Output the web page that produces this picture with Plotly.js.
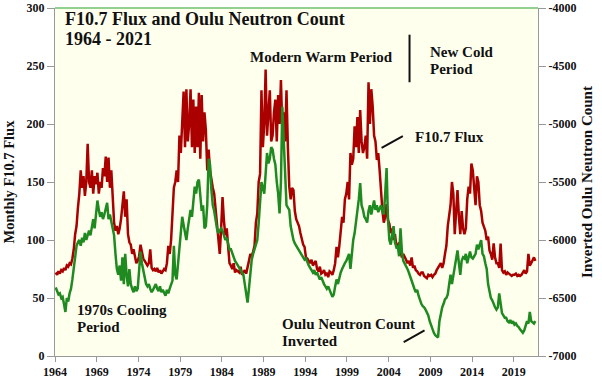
<!DOCTYPE html>
<html>
<head>
<meta charset="utf-8">
<script src="https://cdn.plot.ly/plotly-3.0.1.min.js"></script>
<style>html,body{margin:0;padding:0;background:#fff;}#chart{width:602px;height:379px;}</style>
</head>
<body>
<div id="chart"></div>
<script>
// Sampling: 6 values per year (bi-monthly), starting 1964
const startYear = 1964;
const perYear = 6;

// Monthly F10.7 Flux (left axis), bi-monthly samples
const f107 = [
  72, 70, 73, 71, 74, 73,        // 1964
  76, 74, 78, 77, 80, 79,        // 1965
  84, 92, 105, 112, 128, 140,    // 1966
  160, 145, 155, 138, 150, 183,  // 1967
  150, 145, 160, 140, 155, 148,  // 1968
  158, 140, 150, 145, 162, 155,  // 1969
  172, 150, 171, 145, 160, 140,  // 1970
  115, 108, 112, 105, 110, 118,  // 1971
  128, 142, 120, 135, 105, 98,   // 1972
  96, 88, 92, 84, 80, 82,        // 1973
  86, 96, 90, 84, 82, 80,        // 1974
  78, 80, 92, 76, 74, 75,        // 1975
  73, 76, 72, 74, 71, 73,        // 1976
  75, 74, 80, 95, 88, 100,       // 1977
  120, 145, 150, 160, 150, 190,  // 1978
  175, 200, 228, 180, 230, 185,  // 1979
  200, 230, 180, 221, 175, 215,  // 1980
  180, 227, 170, 225, 185, 210,  // 1981
  195, 160, 178, 160, 150, 145,  // 1982
  140, 125, 113, 100, 88, 110,   // 1983
  137, 117, 104, 110, 90, 80,    // 1984
  78, 75, 80, 72, 74, 73,        // 1985
  72, 77, 70, 72, 74, 71,        // 1986
  78, 82, 88, 86, 90, 95,        // 1987
  115, 123, 150, 157, 229, 180,  // 1988
  200, 247, 190, 215, 229, 185,  // 1989
  190, 210, 221, 185, 225, 200,  // 1990
  238, 195, 210, 185, 229, 180,  // 1991
  146, 135, 145, 143, 125, 118,  // 1992
  115, 112, 106, 100, 96, 94,    // 1993
  85, 84, 82, 80, 83, 78,        // 1994
  80, 82, 75, 73, 77, 71,        // 1995
  72, 74, 70, 71, 68, 73,        // 1996
  72, 70, 74, 80, 94, 85,        // 1997
  95, 108, 120, 115, 135, 140,   // 1998
  150, 135, 175, 165, 170, 198,  // 1999
  180, 206, 175, 212, 185, 175,  // 2000
  180, 190, 170, 236, 200, 230,  // 2001
  215, 190, 185, 169, 175, 160,  // 2002
  140, 125, 115, 120, 131, 117,  // 2003
  114, 106, 110, 100, 105, 95,   // 2004
  94, 98, 90, 85, 88, 86,        // 2005
  83, 80, 82, 78, 85, 76,        // 2006
  78, 74, 73, 71, 70, 72,        // 2007
  72, 69, 68, 67, 70, 69,        // 2008
  70, 68, 70, 71, 74, 76,        // 2009
  78, 80, 76, 80, 88, 95,        // 2010
  112, 120, 130, 150, 140, 105,  // 2011
  130, 143, 120, 105, 125, 110,  // 2012
  105, 110, 135, 146, 140, 166,  // 2013
  160, 140, 130, 155, 150, 130,  // 2014
  125, 115, 112, 108, 100, 103,  // 2015
  91, 88, 83, 97, 85, 80,        // 2016
  80, 76, 97, 74, 72, 73,        // 2017
  70, 72, 71, 70, 69, 70,        // 2018
  70, 71, 69, 70, 69, 70,        // 2019
  72, 74, 71, 73, 88, 78,        // 2020
  80, 82, 85, 82                 // 2021
];

// Oulu neutron count, inverted (right axis)
const oulu = [
  -6410, -6440, -6470, -6460, -6500, -6490,  // 1964
  -6560, -6620, -6500, -6530, -6460, -6420,  // 1965
  -6340, -6250, -6150, -6050, -6020, -6000,  // 1966
  -6050, -5980, -6020, -5940, -6000, -5950,  // 1967
  -5920, -5960, -5880, -5820, -5900, -5750,  // 1968
  -5660, -5740, -5800, -5760, -5820, -5780,  // 1969
  -5740, -5680, -5820, -5780, -5840, -5920,  // 1970
  -5960, -6120, -6250, -6300, -6220, -6350,  // 1971
  -6150, -6380, -6120, -6300, -6400, -6250,  // 1972
  -6380, -6420, -6450, -6400, -6440, -6420,  // 1973
  -6280, -6100, -6200, -6260, -6320, -6380,  // 1974
  -6400, -6380, -6420, -6450, -6430, -6400,  // 1975
  -6380, -6420, -6440, -6400, -6450, -6430,  // 1976
  -6450, -6480, -6430, -6460, -6420, -6380,  // 1977
  -6350, -6050, -6300, -6340, -6200, -6050,  // 1978
  -5960, -5800, -5870, -5950, -6000, -5900,  // 1979
  -5830, -5740, -5800, -5650, -5540, -5600,  // 1980
  -5500, -5480, -5650, -5750, -5700, -5900,  // 1981
  -5880, -5700, -5300, -5350, -5570, -5700,  // 1982
  -5750, -5830, -5900, -5940, -5920, -5900,  // 1983
  -5920, -5960, -6000, -5980, -6040, -6080,  // 1984
  -6080, -6120, -6150, -6180, -6200, -6220,  // 1985
  -6230, -6250, -6280, -6300, -6380, -6450,  // 1986
  -6540, -6420, -6280, -6170, -6120, -6080,  // 1987
  -6040, -6000, -5850, -5650, -5500, -5550,  // 1988
  -5600, -5430, -5250, -5340, -5300, -5200,  // 1989
  -5220, -5300, -5350, -5500, -5600, -5770,  // 1990
  -5500, -4850, -5160, -5540, -5700, -5720,  // 1991
  -5740, -5880, -5950, -6000, -6030, -6050,  // 1992
  -6060, -6080, -6100, -6120, -6140, -6170,  // 1993
  -6160, -6200, -6220, -6240, -6260, -6280,  // 1994
  -6260, -6300, -6280, -6320, -6340, -6320,  // 1995
  -6360, -6380, -6400, -6420, -6400, -6440,  // 1996
  -6460, -6490, -6470, -6400, -6340, -6380,  // 1997
  -6320, -6280, -6250, -6220, -6200, -6180,  // 1998
  -6140, -6120, -6250, -6080, -6000, -5940,  // 1999
  -5850, -5780, -5650, -5510, -5700, -5740,  // 2000
  -5800, -5820, -5850, -5750, -5700, -5780,  // 2001
  -5720, -5660, -5740, -5700, -5760, -5720,  // 2002
  -5700, -5750, -5780, -5600, -5380, -5820,  // 2003
  -6000, -6040, -5960, -5880, -6020, -6060,  // 2004
  -6050, -6140, -5900, -6100, -6180, -6200,  // 2005
  -6220, -6250, -6280, -6320, -6340, -6380,  // 2006
  -6420, -6450, -6430, -6480, -6520, -6550,  // 2007
  -6570, -6580, -6600, -6620, -6650, -6700,  // 2008
  -6740, -6780, -6800, -6820, -6830, -6840,  // 2009
  -6700, -6620, -6580, -6550, -6510, -6500,  // 2010
  -6470, -6380, -6300, -6380, -6300, -6220,  // 2011
  -6150, -6090, -6200, -6300, -6180, -6150,  // 2012
  -6160, -6120, -6200, -6140, -6100, -6150,  // 2013
  -6160, -6140, -6120, -6040, -6080, -6040,  // 2014
  -6000, -6120, -6140, -6200, -6250, -6380,  // 2015
  -6450, -6500, -6520, -6560, -6580, -6600,  // 2016
  -6580, -6460, -6550, -6630, -6650, -6670,  // 2017
  -6670, -6700, -6710, -6690, -6720, -6700,  // 2018
  -6730, -6720, -6740, -6750, -6770, -6790,  // 2019
  -6800, -6780, -6730, -6700, -6720, -6620,  // 2020
  -6700, -6710, -6720, -6700                 // 2021
];

const xTickVals = [1964, 1969, 1974, 1979, 1984, 1989, 1994, 1999, 2004, 2009, 2014, 2019];
const y2TickVals = [-4000, -4500, -5000, -5500, -6000, -6500, -7000];
const y2TickText = ['-4000', '-4500', '-5000', '-5500', '-6000', '-6500', '-7000'];

const timeOf = (i) => startYear + (i + 0.5) / perYear;
const xF = f107.map((_, i) => timeOf(i));
const xO = oulu.map((_, i) => timeOf(i));

const SERIF = '"Liberation Serif", "DejaVu Serif", serif';
const RED = '#AA0000';
const GREEN = '#1F8A1F';

const traces = [
  { x: xF, y: f107, type: 'scatter', mode: 'lines', name: 'F10.7 Flux',
    line: { color: RED, width: 2.5 }, yaxis: 'y', hoverinfo: 'skip' },
  { x: xO, y: oulu, type: 'scatter', mode: 'lines', name: 'Oulu Neutron Count Inverted',
    line: { color: GREEN, width: 2.5 }, yaxis: 'y2', hoverinfo: 'skip' }
];

const annFont = { family: SERIF, size: 15, color: '#111' };
const titleFont = { family: SERIF, size: 18, color: '#111' };

function note(x, y, text, font, xref, yref) {
  return { xref: xref || 'x', yref: yref || 'y', x: x, y: y, xanchor: 'left', yanchor: 'middle',
           align: 'left', showarrow: false, borderpad: 0,
           text: '<b>' + text + '</b>', font: font || annFont };
}

const layout = {
  width: 602, height: 379,
  margin: { l: 55, r: 64, t: 8, b: 23, pad: 0 },
  paper_bgcolor: '#ffffff',
  plot_bgcolor: '#FFFFEE',
  showlegend: false,
  font: { family: SERIF, color: '#111' },
  xaxis: {
    range: [1964, 2021.9], tickvals: xTickVals, tickformat: 'd',
    ticks: 'outside', ticklen: 5, tickcolor: '#999', tickwidth: 1,
    showline: true, linecolor: '#999', linewidth: 1,
    showgrid: false, zeroline: false,
    tickfont: { family: SERIF, size: 12, color: '#111', weight: 'bold' }
  },
  yaxis: {
    range: [0, 300], dtick: 50, tick0: 0,
    ticks: 'outside', ticklen: 7, tickcolor: '#999',
    showline: true, linecolor: '#999', linewidth: 1,
    showgrid: false, zeroline: false,
    tickfont: { family: SERIF, size: 12, color: '#111', weight: 'bold' },
    title: { text: 'Monthly F10.7 Flux', standoff: 8,
             font: { family: SERIF, size: 14.5, color: '#111', weight: 'bold' } }
  },
  yaxis2: {
    overlaying: 'y', side: 'right', range: [-7000, -4000],
    tickvals: y2TickVals, ticktext: y2TickText,
    ticks: 'outside', ticklen: 7, tickcolor: '#999',
    showline: true, linecolor: '#999', linewidth: 1,
    showgrid: false, zeroline: false,
    tickfont: { family: SERIF, size: 12, color: '#111', weight: 'bold' },
    title: { text: 'Inverted Oulu Neutron Count', standoff: 6,
             font: { family: SERIF, size: 15, color: '#111', weight: 'bold' } }
  },
  shapes: [
    { type: 'line', xref: 'paper', yref: 'paper', x0: 0, x1: 1, y0: 1, y1: 1,
      line: { color: '#6CC06C', width: 1.5 } },
    { type: 'line', xref: 'x', yref: 'y', x0: 2006.5, x1: 2006.5, y0: 236, y1: 277,
      line: { color: '#111', width: 2 } },
    { type: 'line', xref: 'x', yref: 'y', x0: 2003.15, x1: 2005.7, y0: 179.5, y1: 189.5,
      line: { color: '#111', width: 2 } },
    { type: 'line', xref: 'x', yref: 'y', x0: 2005.8, x1: 2008.3, y0: 12, y1: 22,
      line: { color: '#111', width: 2 } }
  ],
  annotations: [
    note(0.018, 0.9684, 'F10.7 Flux and Oulu Neutron Count', titleFont, 'paper', 'paper'),
    note(0.018, 0.9109, '1964 - 2021', titleFont, 'paper', 'paper'),
    { xref: 'x', yref: 'y', x: 1995.95, y: 258, xanchor: 'center', yanchor: 'middle',
      showarrow: false, borderpad: 0, text: '<b>Modern Warm Period</b>', font: annFont },
    note(2008.85, 261.8, 'New Cold'),
    note(2008.85, 247.2, 'Period'),
    note(2007.05, 189, 'F10.7 Flux'),
    note(1966.5, 39.9, '1970s Cooling'),
    note(1966.5, 25.2, 'Period'),
    note(1991.1, 27.8, 'Oulu Neutron Count'),
    note(1991.1, 13.1, 'Inverted')
  ]
};

Plotly.newPlot('chart', traces, layout, { staticPlot: true, displayModeBar: false });
</script>
</body>
</html>
